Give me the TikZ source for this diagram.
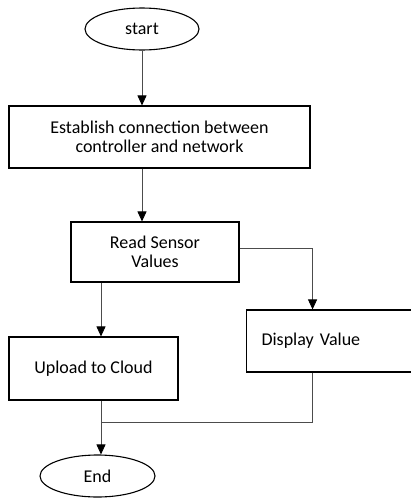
\documentclass[tikz,border=0pt]{standalone}
\usepackage{fontspec}
\setmainfont{Carlito}
\usetikzlibrary{shapes.geometric,arrows.meta}
\tikzset{
  procbox/.style = {draw, line width=1.1pt, rectangle, inner sep=0pt, align=center},
  termnode/.style = {draw, line width=1.1pt, ellipse, inner sep=0pt},
  arr/.style = {-{Triangle[length=10pt,width=9pt,black]}, draw=black!70, line width=0.8pt},
  link/.style = {draw=black!70, line width=0.8pt}
}

\begin{document}
\begin{tikzpicture}[x=1pt,y=-1pt,font=\fontsize{18}{19.5}\selectfont]
\useasboundingbox (0,0) rectangle (411,498);
\clip (0,0) rectangle (411,498);
\node[termnode, minimum width=114pt, minimum height=42pt] (start) at (142,29) {start};
\node[procbox, minimum width=301pt, minimum height=62pt] (conn) at (159.5,137) {Establish connection between\\controller and network};
\node[procbox, minimum width=168pt, minimum height=60pt] (read) at (155,252) {Read Sensor\\Values};
\node[procbox, minimum width=169pt, minimum height=63pt] (upload) at (93.5,368.5) {Upload to Cloud};
\node[procbox, anchor=west, minimum height=62pt, text width=140pt, inner xsep=15pt, align=left] (disp) at (246,341) {Display Value};
\node[termnode, minimum width=115pt, minimum height=42pt] (end) at (97.5,476) {End};
\coordinate (join) at (101,422);
%
%
\draw[arr] (start) -- (start |- conn.north);
\draw[arr] (start |- conn.south) -- (start |- read.north);
\draw[arr] (join |- read.south) -- (join |- upload.north);
\draw[arr] ([yshift=4pt]read.east) -| ([xshift=-19pt]disp.north);
\draw[link] ([xshift=-19pt]disp.south) |- (join);
\draw[arr] (join |- upload.south) -- (join |- end.north);
%
%
\end{tikzpicture}
\end{document}
